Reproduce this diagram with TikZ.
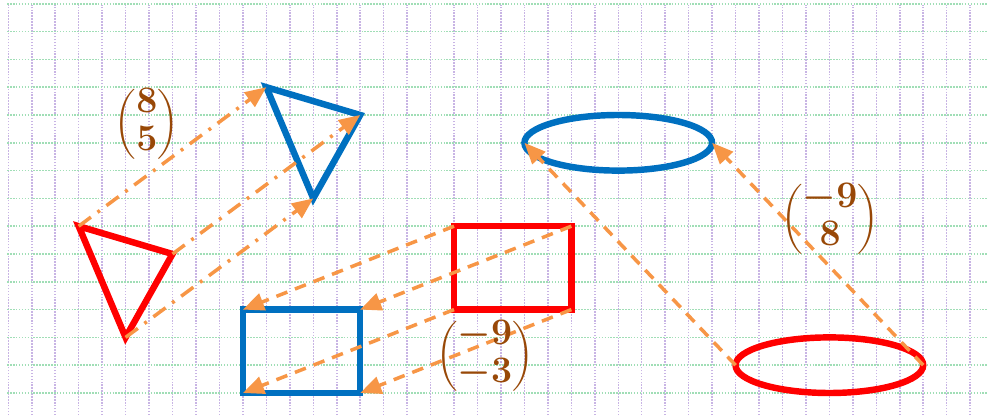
\RequirePackage{fix-cm}
\documentclass[tikz,border=0pt]{standalone}
\usepackage{amsmath}
\usepackage{tikz}
\usetikzlibrary{arrows.meta}
\definecolor{vermelho}{HTML}{FF0000}
\definecolor{azul}{HTML}{0070C0}
\definecolor{laranja}{HTML}{F79646}
\definecolor{marrom}{HTML}{984807}
\definecolor{gradev}{HTML}{C8B4E4}
\definecolor{gradeh}{HTML}{A0DEB6}
\tikzset{
  figura/.style={line width=5.5pt, line join=miter},
  linhav/.style={draw=gradev, line width=1.3pt, dash pattern=on 1.3pt off 1.2pt},
  linhah/.style={draw=gradeh, line width=1.3pt, dash pattern=on 1.3pt off 1.2pt},
  seta/.style={draw=laranja, line width=3pt, -{Triangle[length=18pt,width=15pt]}},
  setatri/.style={seta, dash pattern=on 13pt off 7pt on 2.5pt off 7pt},
  setaret/.style={seta, dash pattern=on 10pt off 7pt},
  vetor/.style={text=marrom, inner sep=0pt, font=\fontsize{32}{38}\selectfont\boldmath}
}
\newcommand{\vetorcol}[2]{{\renewcommand{\arraystretch}{0.85}$\begin{pmatrix}#1\\#2\end{pmatrix}$}}
\newcommand{\triangulo}[3]{%
  \begin{scope}[shift={#1}]
    \coordinate (#3a) at (3,6);
    \coordinate (#3b) at (7,5);
    \coordinate (#3c) at (5,2);
    \draw[figura, draw=#2] (#3a) -- (#3b) -- (#3c) -- cycle;
  \end{scope}}
\newcommand{\retangulo}[3]{%
  \begin{scope}[shift={#1}]
    \coordinate (#3a) at (19,6);
    \coordinate (#3b) at (24,6);
    \coordinate (#3c) at (19,3);
    \coordinate (#3d) at (24,3);
    \draw[figura, draw=#2] (#3c) rectangle (#3b);
  \end{scope}}
\newcommand{\elipse}[3]{%
  \begin{scope}[shift={#1}]
    \coordinate (#3c) at (35,1);
    \coordinate (#3a) at (31,1);
    \coordinate (#3b) at (39,1);
    \draw[figura, draw=#2] (#3c) ellipse (4 and 1);
  \end{scope}}

\begin{document}
\begin{tikzpicture}[x=0.7038cm, y=0.834cm]
  \useasboundingbox (-0.3538,-0.899) rectangle (41.718,14.137);
  % papel quadriculado
  \foreach \i in {0,...,41} \draw[linhav] (\i,-0.8) -- (\i,13.97);
  \foreach \j in {0,...,14} \draw[linhah] (-0.05,\j) -- (41.72,\j);
  % figuras
  \triangulo{(0,0)}{vermelho}{tr}
  \triangulo{(8,5)}{azul}{tb}
  \retangulo{(0,0)}{vermelho}{rr}
  \retangulo{(-9,-3)}{azul}{rb}
  \elipse{(0,0)}{vermelho}{er}
  \elipse{(-9,8)}{azul}{eb}
  % translacoes
  \foreach \v in {a,b,c} \draw[setatri] (tr\v) -- (tb\v);
  \foreach \v in {a,b,c,d} \draw[setaret] (rr\v) -- (rb\v);
  \foreach \v in {a,b} \draw[setaret] (er\v) -- (eb\v);
  \node[vetor] (v1) at (5.91,9.68) {\vetorcol{8}{5}};
  \node[vetor] (v2) at (20.32,1.33) {\vetorcol{-9}{-3}};
  \node[vetor] (v3) at (35.03,6.26) {\vetorcol{-9}{8}};
\end{tikzpicture}
\end{document}
